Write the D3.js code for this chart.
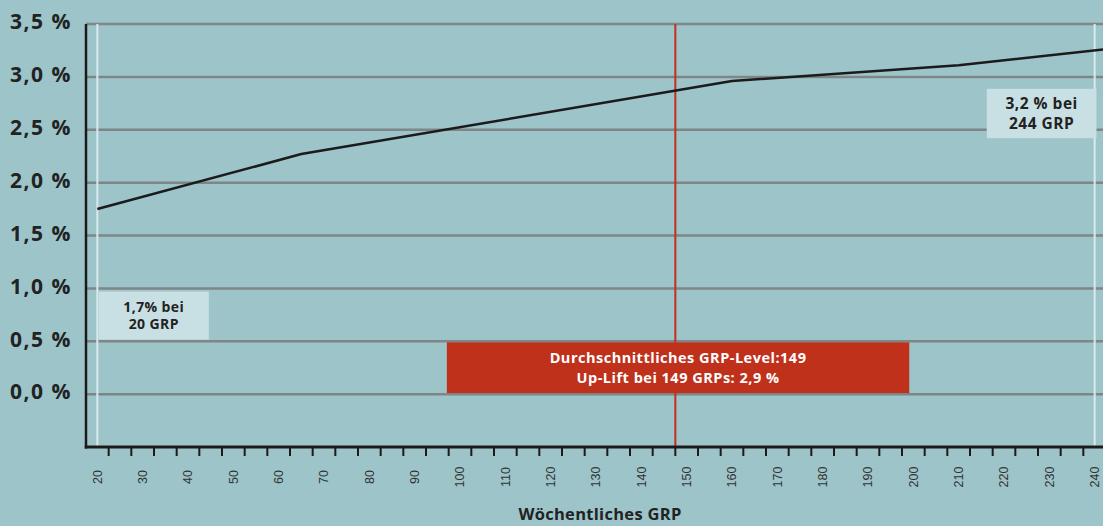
<!DOCTYPE html>
<html>
<head>
<meta charset="utf-8">
<script src="https://cdn.jsdelivr.net/npm/d3@7"></script>
<style>
  html, body { margin: 0; padding: 0; background: #9cc4c9; }
  svg { display: block; }
</style>
</head>
<body>
<svg id="chart" width="1103" height="526"></svg>
<script>
// ---- data ----
const grpLabels = [20,30,40,50,60,70,80,90,100,110,120,130,140,150,160,170,180,190,200,210,220,230,240];
const grpMinorTicks = d3.range(22.5, 240, 5);
const yTicks = [0, 0.5, 1.0, 1.5, 2.0, 2.5, 3.0, 3.5];
const yTickLabels = ["0,0 %", "0,5 %", "1,0 %", "1,5 %", "2,0 %", "2,5 %", "3,0 %", "3,5 %"];
const lineGRP = [20, 65, 160, 210, 244];
const lineUplift = [1.75, 2.27, 2.96, 3.11, 3.27];
const avgGRPPosition = 147.5;
const markerGRP = [20, 240];
const xTitle = "Wöchentliches GRP";
const noteLeft = ["1,7% bei", "20 GRP"];
const noteRight = ["3,2 % bei", "244 GRP"];
const noteAvg = ["Durchschnittliches GRP-Level:149", "Up-Lift bei 149 GRPs: 2,9 %"];
// annotation box extents in data units [grpFrom, grpTo, upliftLow, upliftHigh]
const noteLeftBox = [20.3, 44.6, 0.515, 0.97];
const noteRightBox = [216.2, 240.4, 2.42, 2.887];
const noteAvgBox = [97.1, 199.1, 0.01, 0.49];

// ---- drawing ----
const svg = d3.select("#chart");
const W = 1103, H = 526;
const FONT = "'Open Sans', 'Noto Sans', sans-serif";
const x = d3.scaleLinear().domain([17.5, 242.5]).range([86, 1106]);
const y = d3.scaleLinear().domain([-0.5, 3.5]).range([447, 24]);

svg.append("rect").attr("width", W).attr("height", H).attr("fill", "#9cc4c9");

// gridlines
svg.append("g").selectAll("line").data(yTicks).join("line")
  .attr("x1", x(17.5)).attr("x2", W)
  .attr("y1", d => y(d)).attr("y2", d => y(d))
  .attr("stroke", "#7f8688").attr("stroke-width", 2.5);

// white marker lines
svg.append("g").selectAll("line").data(markerGRP).join("line")
  .attr("x1", d => x(d)).attr("x2", d => x(d))
  .attr("y1", y(3.5)).attr("y2", y(-0.5))
  .attr("stroke", "#d8eaec").attr("stroke-width", 2);

// red average line
svg.append("line")
  .attr("x1", x(avgGRPPosition)).attr("x2", x(avgGRPPosition))
  .attr("y1", y(3.5)).attr("y2", y(-0.5))
  .attr("stroke", "#c0311c").attr("stroke-width", 2);

// annotation boxes
function noteBox(box, lines, fill, color, size, lineGap, spacing) {
  const g = svg.append("g");
  g.append("rect")
    .attr("x", x(box[0])).attr("width", x(box[1]) - x(box[0]))
    .attr("y", y(box[3])).attr("height", y(box[2]) - y(box[3]))
    .attr("fill", fill);
  const cx = (x(box[0]) + x(box[1])) / 2;
  const cy = (y(box[2]) + y(box[3])) / 2;
  g.selectAll("text").data(lines).join("text")
    .attr("x", cx)
    .attr("y", (d, i) => cy + (i - (lines.length - 1) / 2) * lineGap)
    .attr("dy", "0.36em")
    .attr("text-anchor", "middle")
    .attr("font-family", FONT)
    .attr("font-weight", "bold")
    .attr("font-size", size)
    .attr("letter-spacing", spacing + "px")
    .attr("fill", color)
    .text(d => d);
}
noteBox(noteLeftBox, noteLeft, "#c8e0e3", "#222", 14, 17.5, 0.4);
noteBox(noteRightBox, noteRight, "#c8e0e3", "#222", 15.5, 20, 0.5);
noteBox(noteAvgBox, noteAvg, "#c0311c", "#ffffff", 14.5, 19.5, 0.5);

// data line
const line = d3.line().x((d, i) => x(lineGRP[i])).y(d => y(d));
svg.append("path").datum(lineUplift)
  .attr("d", line)
  .attr("fill", "none")
  .attr("stroke", "#1c1a1b")
  .attr("stroke-width", 2.5)
  .attr("stroke-linejoin", "round");

// x axis
const xAxis = svg.append("g").attr("transform", `translate(0,${y(-0.5)})`);
xAxis.append("line").attr("x1", x(17.5) - 1.25).attr("x2", W)
  .attr("stroke", "#1c1a1b").attr("stroke-width", 3);
xAxis.selectAll("line.tick").data(grpMinorTicks).join("line")
  .attr("class", "tick")
  .attr("x1", d => x(d)).attr("x2", d => x(d))
  .attr("y1", 0).attr("y2", 9)
  .attr("stroke", "#1c1a1b").attr("stroke-width", 2);
xAxis.selectAll("text").data(grpLabels).join("text")
  .attr("transform", d => `translate(${x(d)},30) rotate(-90)`)
  .attr("text-anchor", "middle")
  .attr("dy", "0.35em")
  .attr("font-family", "'Liberation Sans', Arial, sans-serif")
  .attr("font-size", 12.5)
  .attr("fill", "#333")
  .text(d => d);

// y axis
svg.append("line")
  .attr("x1", x(17.5)).attr("x2", x(17.5))
  .attr("y1", y(3.5)).attr("y2", y(-0.5) + 1.5)
  .attr("stroke", "#1c1a1b").attr("stroke-width", 2.5);
svg.append("g").selectAll("text").data(yTicks).join("text")
  .attr("x", 72)
  .attr("y", d => y(d) - 2)
  .attr("dy", "0.35em")
  .attr("text-anchor", "end")
  .attr("font-family", FONT)
  .attr("font-weight", "bold")
  .attr("font-size", 21)
  .attr("letter-spacing", "1.5px")
  .attr("fill", "#222")
  .text((d, i) => yTickLabels[i]);

// x title
svg.append("text")
  .attr("x", 600).attr("y", 520)
  .attr("text-anchor", "middle")
  .attr("font-family", FONT)
  .attr("font-weight", "bold")
  .attr("font-size", 16.5)
  .attr("letter-spacing", "0.3px")
  .attr("fill", "#222")
  .text(xTitle);
</script>
</body>
</html>
